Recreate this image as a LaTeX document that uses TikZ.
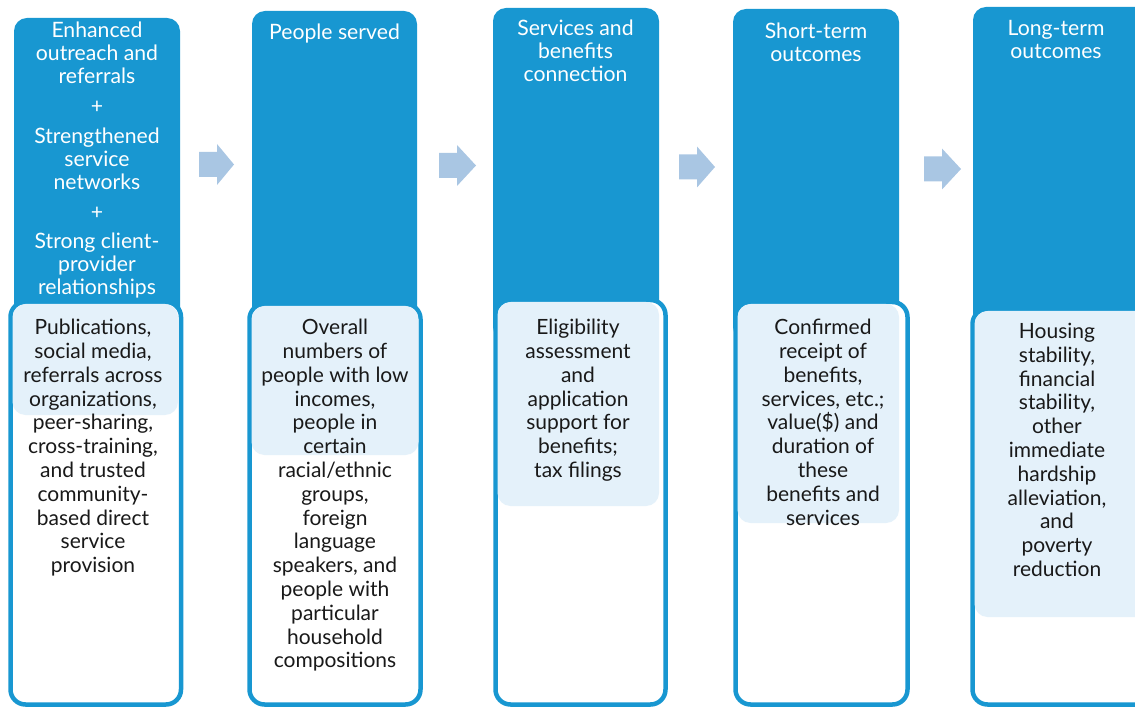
\documentclass[tikz,border=0pt]{standalone}
\usepackage{fontspec}
\setmainfont{Lato}
\definecolor{topblue}{RGB}{24,151,209}
\definecolor{paleblue}{RGB}{228,241,250}
\definecolor{flowblue}{RGB}{169,198,227}
\definecolor{ink}{RGB}{25,25,25}
\begin{document}
\begin{tikzpicture}[x=1pt, y=-1pt,
    stage/.style={fill=topblue, rounded corners=13pt},
    frame/.style={draw=topblue, fill=white, line width=4.5pt, rounded corners=15pt},
    detail/.style={fill=paleblue, rounded corners=13pt},
    flow/.style={fill=flowblue},
    title/.style={anchor=north, align=center, inner sep=0pt, text=white, font=\fontsize{21.2}{23}\selectfont},
    body/.style={anchor=north, align=center, inner sep=0pt, text=ink, font=\fontsize{21}{23.8}\selectfont}]
    \useasboundingbox (0,0) rectangle (1135,708);
    \clip (0,0) rectangle (1135,708);
    %Stage headers
    \fill[stage] (14,18) rectangle (180,340);
    \fill[stage] (252,11) rectangle (417,340);
    \fill[stage] (493,8) rectangle (659,340);
    \fill[stage] (733,9) rectangle (899,340);
    \fill[stage] (973,7) rectangle (1160,340);
    \node[title] (h1) at (97,22) {Enhanced\\outreach and\\referrals\\[6.75pt]+\\[6.75pt]Strengthened\\service\\networks\\[6.75pt]+\\[6.75pt]Strong client-\\provider\\relationships};
    \node[title] (h2) at (334.5,24) {People served};
    \node[title] (h3) at (575.5,20) {Services and\\benefits\\connection};
    \node[title] (h4) at (816,23) {Short-term\\outcomes};
    \node[title] (h5) at (1056,20) {Long-term\\outcomes};
    %Detail boxes
    \draw[frame] (10.5,302) rectangle (181,704.5);
    \draw[frame] (249.5,304) rectangle (420.5,704.5);
    \draw[frame] (495.5,300) rectangle (665.5,704.5);
    \draw[frame] (735.5,302) rectangle (907.5,704.5);
    \draw[frame] (972.5,309) rectangle (1160,704.5);
    \fill[detail] (12.5,304) rectangle (178,415);
    \fill[detail] (251.5,306) rectangle (418.5,455);
    \fill[detail] (497.5,302) rectangle (659,506);
    \fill[detail] (737.5,304) rectangle (899,523);
    \fill[detail] (974.5,311) rectangle (1160,617);
    \node[body] (b1) at (93,319) {Publications,\\social media,\\referrals across\\organizations,\\peer-sharing,\\cross-training,\\and trusted\\community-\\based direct\\service\\provision};
    \node[body] (b2) at (335,319) {Overall\\numbers of\\people with low\\incomes,\\people in\\certain\\racial/ethnic\\groups,\\foreign\\language\\speakers, and\\people with\\particular\\household\\compositions};
    \node[body] (b3) at (578,319) {Eligibility\\assessment\\and\\application\\support for\\benefits;\\tax filings};
    \node[body] (b4) at (823,319) {Confirmed\\receipt of\\benefits,\\services, etc.;\\value(\$) and\\duration of\\these\\benefits and\\services};
    \node[body] (b5) at (1057,323) {Housing\\stability,\\financial\\stability,\\other\\immediate\\hardship\\alleviation,\\and\\poverty\\reduction};
    %Flow arrows
    \fill[flow, shift={(199,164.5)}] (0,-12.5) -- (18,-12.5) -- (18,-20.5) -- (35,0) -- (18,20.5) -- (18,12.5) -- (0,12.5) -- cycle;
    \fill[flow, shift={(439,165.5)}] (0,-12.5) -- (18,-12.5) -- (18,-20.5) -- (37,0) -- (18,20.5) -- (18,12.5) -- (0,12.5) -- cycle;
    \fill[flow, shift={(679,167)}] (0,-12.5) -- (18,-12.5) -- (18,-20.5) -- (36,0) -- (18,20.5) -- (18,12.5) -- (0,12.5) -- cycle;
    \fill[flow, shift={(924,169)}] (0,-12.5) -- (18,-12.5) -- (18,-20.5) -- (37,0) -- (18,20.5) -- (18,12.5) -- (0,12.5) -- cycle;
\end{tikzpicture}
\end{document}
